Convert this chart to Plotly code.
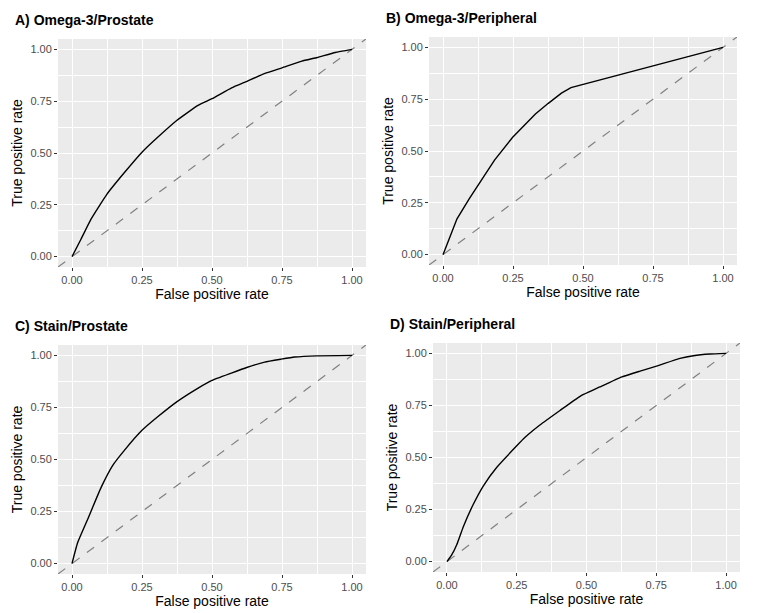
import plotly.graph_objects as go

# ---- data ----
titles = ["A) Omega-3/Prostate", "B) Omega-3/Peripheral", "C) Stain/Prostate", "D) Stain/Peripheral"]

fpr_a = [0, 0.032, 0.068, 0.125, 0.188, 0.25, 0.307, 0.375, 0.45, 0.5, 0.57, 0.625, 0.689, 0.75, 0.821, 0.876, 0.94, 1]
tpr_a = [0, 0.084, 0.181, 0.302, 0.407, 0.504, 0.577, 0.658, 0.730, 0.762, 0.814, 0.846, 0.884, 0.911, 0.943, 0.961, 0.985, 1]

fpr_b = [0, 0.050, 0.094, 0.136, 0.184, 0.248, 0.304, 0.330, 0.376, 0.423, 0.457, 1]
tpr_b = [0, 0.173, 0.270, 0.359, 0.456, 0.565, 0.641, 0.679, 0.730, 0.779, 0.806, 1]

fpr_c = [0, 0.02, 0.056, 0.104, 0.145, 0.187, 0.25, 0.306, 0.374, 0.449, 0.498, 0.569, 0.624, 0.688, 0.747, 0.795, 0.874, 1]
tpr_c = [0, 0.10, 0.213, 0.366, 0.471, 0.544, 0.640, 0.705, 0.777, 0.842, 0.879, 0.915, 0.942, 0.968, 0.982, 0.992, 0.998, 1]

fpr_d = [0, 0.017, 0.035, 0.059, 0.094, 0.130, 0.178, 0.25, 0.28, 0.333, 0.405, 0.477, 0.548, 0.627, 0.692, 0.751, 0.835, 0.883, 0.943, 1]
tpr_d = [0, 0.032, 0.081, 0.169, 0.274, 0.363, 0.452, 0.556, 0.597, 0.656, 0.726, 0.794, 0.839, 0.887, 0.915, 0.939, 0.976, 0.989, 0.997, 1]

tick_vals = [0, 0.25, 0.5, 0.75, 1.0]
tick_text = ["0.00", "0.25", "0.50", "0.75", "1.00"]
diag = [-0.05, 1.05]

curves = [(fpr_a, tpr_a), (fpr_b, tpr_b), (fpr_c, tpr_c), (fpr_d, tpr_d)]
shapes = ["spline", "linear", "spline", "spline"]

W, H = 758, 613
# panel pixel boxes (left, right, top, bottom)
boxes = [(58, 366, 39, 267), (429, 737, 37, 265), (58, 366, 345, 574), (433, 740, 343, 572)]

FONT = "Liberation Sans, Arial, sans-serif"
fig = go.Figure()

for i, ((fx, ty), box) in enumerate(zip(curves, boxes)):
    n = "" if i == 0 else str(i + 1)
    xa, ya = "x" + n, "y" + n
    fig.add_trace(go.Scatter(x=diag, y=diag, mode="lines", xaxis=xa, yaxis=ya,
                             line=dict(color="#808080", width=1.2, dash="dash"),
                             showlegend=False, hoverinfo="skip"))
    line = dict(color="black", width=1.4, shape=shapes[i])
    if shapes[i] == "spline":
        line["smoothing"] = 0.4
    fig.add_trace(go.Scatter(x=fx, y=ty, mode="lines", xaxis=xa, yaxis=ya,
                             line=line, showlegend=False))
    l, r, t, b = box
    common = dict(range=[-0.05, 1.05], tickvals=tick_vals, ticktext=tick_text,
                  showgrid=True, gridcolor="white", gridwidth=1.1,
                  zeroline=False, showline=False,
                  ticks="outside", ticklen=3, tickcolor="#333333", tickwidth=1,
                  tickfont=dict(family=FONT, size=11, color="#4D4D4D"),
                  minor=dict(tickvals=[0.125, 0.375, 0.625, 0.875], showgrid=True,
                             gridcolor="white", gridwidth=0.5, ticks=""),
                  fixedrange=True)
    fig.layout["xaxis" + n] = dict(common, domain=[l / W, r / W], anchor=ya,
                                   title=dict(text="False positive rate", standoff=3,
                                              font=dict(family=FONT, size=14, color="black")))
    fig.layout["yaxis" + n] = dict(common, domain=[1 - b / H, 1 - t / H], anchor=xa,
                                   title=dict(text="True positive rate", standoff=4,
                                              font=dict(family=FONT, size=14, color="black")))
    fig.add_annotation(text="<b>" + titles[i] + "</b>", xref="paper", yref="paper",
                       x=(l - 45) / W, y=1 - (t - 19) / H, xanchor="left", yanchor="middle",
                       showarrow=False, font=dict(family=FONT, size=14, color="black"))

fig.update_layout(width=W, height=H, margin=dict(l=0, r=0, t=0, b=0),
                  plot_bgcolor="#EBEBEB", paper_bgcolor="white")

fig.write_html("out.html", config={"displayModeBar": False},
               post_script="document.body.style.margin='0';")
